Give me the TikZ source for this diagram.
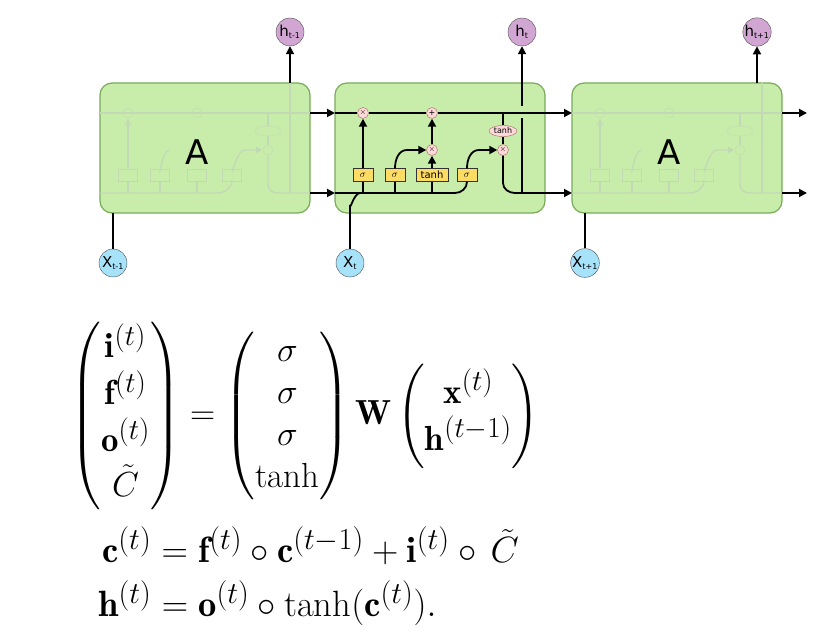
\documentclass[tikz,border=0pt]{standalone}
\usepackage{amsmath,amssymb}
\usepackage{fontspec}
\newfontfamily\sansf{DejaVu Sans}
\usetikzlibrary{arrows.meta,shapes.geometric}
\definecolor{cellfill}{RGB}{200,236,170}
\definecolor{celldraw}{RGB}{120,170,90}
\begin{document}
\begin{tikzpicture}[x=1pt,y=-1pt,
  cell/.style={draw=celldraw,fill=cellfill,rounded corners=12pt,line width=1.2pt},
  ln/.style={line width=1.8pt,black},
  arr/.style={ln,-{Triangle[length=8pt,width=8pt]}},
  fl/.style={line width=1.3pt,celldraw!45},
  farr/.style={fl,-{Triangle[length=6pt,width=6pt]}},
  hcirc/.style={circle,draw=black!70,fill=violet!35,minimum size=28pt,inner sep=0pt,font=\sansf\fontsize{15}{15}\selectfont},
  xcirc/.style={circle,draw=black!70,fill=cyan!35,minimum size=28pt,inner sep=0pt,font=\sansf\fontsize{15}{15}\selectfont},
  op/.style={circle,draw=red!40!black!60,fill=pink!60,minimum size=11pt,inner sep=0pt,font=\sansf\fontsize{8}{8}\selectfont},
  gate/.style={draw=black!80,fill=yellow!60!orange!60,minimum height=13pt,minimum width=20pt,inner sep=1pt,font=\sansf\fontsize{10}{10}\selectfont},
  fop/.style={circle,draw=celldraw!45,minimum size=10pt,inner sep=0pt},
  fgate/.style={draw=celldraw!45,minimum height=12pt,minimum width=19pt,inner sep=0pt},
  bigA/.style={font=\sansf\fontsize{34}{34}\selectfont},
  eq/.style={font=\Huge,transform shape}]
\useasboundingbox (0,0) rectangle (825,639);
\node[cell,minimum width=210pt,minimum height=130pt] (c1) at (205,148) {};
\node[cell,minimum width=210pt,minimum height=130pt] (c2) at (440,148) {};
\node[cell,minimum width=210pt,minimum height=130pt] (c3) at (677,148) {};
\foreach \o in {0,472}{
  \begin{scope}[xshift=\o]
  \draw[fl] (100,113) -- (310,113);
  \draw[fl] (100,193) -- (217,193) to[out=0,in=-90] (232,180);
  \node[fop] at (128,113) {};
  \node[fop] at (197,113) {};
  \node[fgate] at (128,175) {}; \node[fgate] at (160,175) {};
  \node[fgate] at (197,175) {}; \node[fgate] at (232,175) {};
  \node[fop] at (268,150) {};
  \draw[fl] (268,113) -- (268,145);
  \node[draw=celldraw!45,fill=cellfill,ellipse,minimum width=26pt,minimum height=10pt,inner sep=0pt] at (268,131) {};
  \draw[farr] (128,169) -- (128,119);
  \draw[fl] (268,155) -- (268,185) to[out=-90,in=180] (278,193) -- (310,193);
  \draw[fl] (290,83) -- (290,193);
  \draw[farr] (232,169) to[out=-90,in=180] (245,150) -- (262,150);
  \draw[fl] (128,181)--(128,193) (160,181)--(160,193) (197,181)--(197,193);
  \draw[fl] (160,169) to[out=-90,in=180] (170,150);
  \end{scope}}
\node[bigA] (A1) at (197,152) {A};
\node[bigA] (A2) at (669,152) {A};
\node[hcirc] (h1) at (290,32) {h\textsubscript{\fontsize{8}{8}\selectfont t-1}};
\node[hcirc] (h2) at (522,32) {h\textsubscript{\fontsize{8}{8}\selectfont t}};
\node[hcirc] (h3) at (757,32) {h\textsubscript{\fontsize{8}{8}\selectfont t+1}};
\node[xcirc] (x1) at (113,263) {X\textsubscript{\fontsize{8}{8}\selectfont t-1}};
\node[xcirc] (x2) at (350,263) {X\textsubscript{\fontsize{8}{8}\selectfont t}};
\node[xcirc] (x3) at (585,263) {X\textsubscript{\fontsize{8}{8}\selectfont t+1}};
\coordinate (t1) at (290,83); \coordinate (t3) at (757,83);
\draw[arr] (t1) -- (h1);
\draw[arr] (t3) -- (h3);
\draw[ln] (x1) -- (113,213);
\draw[ln] (x3) -- (585,213);
\draw[arr] (310,113) -- (335,113);
\draw[arr] (310,193) -- (335,193);
\draw[arr] (545,113) -- (572,113);
\draw[arr] (545,193) -- (572,193);
\draw[arr] (782,113) -- (807,113);
\draw[arr] (782,193) -- (807,193);
\node[op] (m1) at (363,113) {$\times$};
\node[op] (p1) at (432,113) {+};
\node[op] (m2) at (432,150) {$\times$};
\node[op] (m3) at (503,150) {$\times$};
\node[op,ellipse,minimum width=28pt] (th) at (503,131) {tanh};
\node[gate] (g1) at (363,175) {$\sigma$};
\node[gate] (g2) at (395,175) {$\sigma$};
\node[gate,minimum width=32pt] (g3) at (432,175) {tanh};
\node[gate] (g4) at (467,175) {$\sigma$};
\draw[ln] (335,113) -- (m1) -- (p1) -- (545,113);
\draw[ln] (503,113) -- (th) -- (m3);
\draw[ln] (335,193) -- (455,193) to[out=0,in=-90] (g4.south);
\draw[ln] (x2) -- (350,205) to[out=-90,in=180] (360,193);
\draw[ln] (g1.south) -- (363,193) (g2.south) -- (395,193) (g3.south) -- (432,193);
\draw[arr] (g1) -- (m1);
\draw[arr] (g3) -- (m2);
\draw[arr] (m2) -- (p1);
\draw[arr] (g2.north) to[out=90,in=180] (407,150) -- (m2);
\draw[arr] (g4.north) to[out=90,in=180] (479,150) -- (m3);
\draw[ln] (m3) -- (503,183) to[out=-90,in=180] (515,193) -- (545,193);
\draw[ln] (522,193) -- (522,118);
\draw[arr] (522,106) -- (h2);
\node[eq,scale=1.4] (eq1) at (305,416) {$\begin{pmatrix}\mathbf{i}^{(t)}\\ \mathbf{f}^{(t)}\\ \mathbf{o}^{(t)}\\ \tilde{C}\end{pmatrix}=\begin{pmatrix}\sigma\\ \sigma\\ \sigma\\ \tanh\end{pmatrix}\mathbf{W}\begin{pmatrix}\mathbf{x}^{(t)}\\ \mathbf{h}^{(t-1)}\end{pmatrix}$};
\node[eq,scale=1.47,anchor=west] (eq2) at (97,546) {$\mathbf{c}^{(t)}=\mathbf{f}^{(t)}\circ\mathbf{c}^{(t-1)}+\mathbf{i}^{(t)}\circ\,\tilde{C}$};
\node[eq,scale=1.47,anchor=west] (eq3) at (93,603) {$\mathbf{h}^{(t)}=\mathbf{o}^{(t)}\circ\tanh(\mathbf{c}^{(t)}).$};
\end{tikzpicture}
\end{document}
